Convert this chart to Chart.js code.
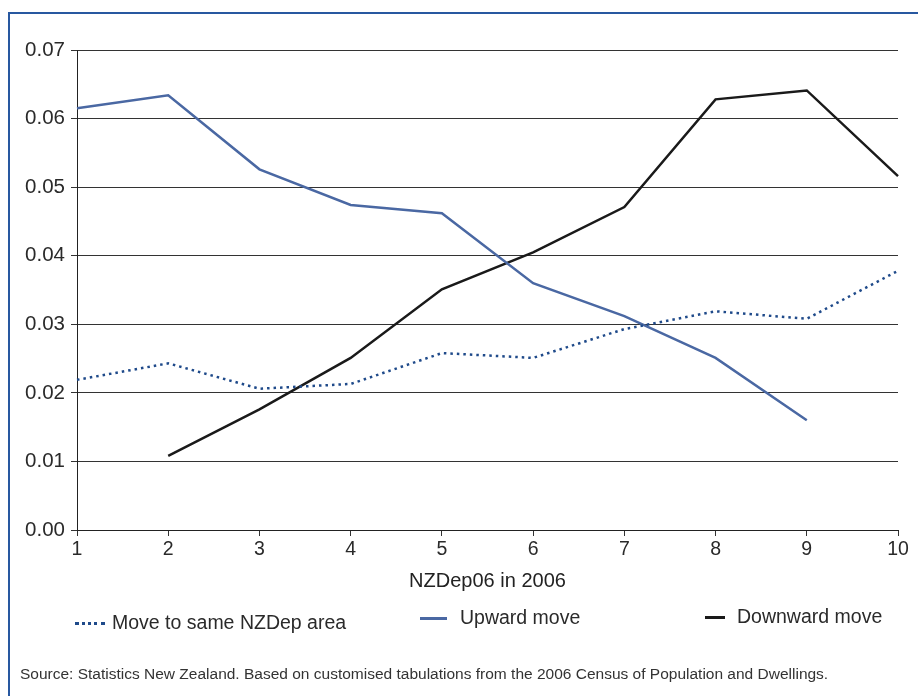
<!DOCTYPE html>
<html>
<head>
<meta charset="utf-8">
<script src="https://cdn.jsdelivr.net/npm/chart.js@4"></script>
<style>
  html, body { margin: 0; padding: 0; background: #fff; }
  body { width: 918px; height: 696px; position: relative; overflow: hidden; font-family: "Liberation Sans", Arial, sans-serif; color: #2a2a2a; }
  #frame { position: absolute; left: 8px; top: 12px; width: 920px; height: 700px; border-left: 2px solid #2858a0; border-top: 2px solid #2858a0; }
  #wrap { position: absolute; left: 0; top: 0; width: 918px; height: 696px; }
  .leg { position: absolute; font-size: 19.5px; line-height: 22px; white-space: nowrap; }
  .leg i { display: inline-block; vertical-align: middle; margin-right: 7px; }
  #source { position: absolute; left: 20px; top: 665px; font-size: 15.5px; color: #333; }
</style>
</head>
<body>
<div id="frame"></div>
<div id="wrap"><canvas id="chart" width="918" height="696"></canvas></div>
<div class="leg" style="left:75px; top:611px;"><i style="width:30px; border-top:3px dotted #1f4a8a;"></i>Move to same NZDep area</div>
<div class="leg" style="left:420px; top:606px;"><i style="width:27px; border-top:3px solid #4a68a3; margin-right:13px;"></i>Upward move</div>
<div class="leg" style="left:705px; top:605px;"><i style="width:20px; border-top:3px solid #1a1a1a; margin-right:12px;"></i>Downward move</div>
<div id="source">Source: Statistics New Zealand. Based on customised tabulations from the 2006 Census of Population and Dwellings.</div>
<script>
// NZDep06 deciles on the x axis
const deciles = ['1', '2', '3', '4', '5', '6', '7', '8', '9', '10'];

// proportions
const sameArea = [0.0219, 0.0243, 0.0206, 0.0213, 0.0258, 0.0251, 0.0293, 0.0319, 0.0308, 0.0378];
const upwardMove = [0.0615, 0.0634, 0.0526, 0.0474, 0.0462, 0.0360, 0.0312, 0.0251, 0.0160, null];
const downwardMove = [null, 0.0108, 0.0176, 0.0251, 0.0351, 0.0405, 0.0471, 0.0628, 0.0641, 0.0516];

const ctx = document.getElementById('chart').getContext('2d');
new Chart(ctx, {
    type: 'line',
    data: {
        labels: deciles,
        datasets: [
            { label: 'Move to same NZDep area', data: sameArea, borderColor: '#1f4a8a', borderWidth: 2.5, borderDash: [2.5, 4], pointRadius: 0, tension: 0 },
            { label: 'Upward move', data: upwardMove, borderColor: '#4a68a3', borderWidth: 2.5, pointRadius: 0, tension: 0 },
            { label: 'Downward move', data: downwardMove, borderColor: '#1a1a1a', borderWidth: 2.5, pointRadius: 0, tension: 0 }
        ]
    },
    options: {
        responsive: false,
        animation: false,
        layout: { padding: { top: 50, right: 20, bottom: 101, left: 0 } },
        plugins: { legend: { display: false }, tooltip: { enabled: false } },
        scales: {
            x: {
                offset: false,
                grid: { drawOnChartArea: false, drawTicks: true, tickLength: 6, color: '#333' },
                border: { color: '#222', width: 1 },
                ticks: { color: '#2a2a2a', font: { family: 'Liberation Sans', size: 19.5 }, padding: 2, maxRotation: 0 },
                title: { display: true, text: 'NZDep06 in 2006', color: '#222', font: { family: 'Liberation Sans', size: 20 }, padding: { top: 0, bottom: 2 } },
                afterFit: s => { s.height = 65; }
            },
            y: {
                min: 0,
                max: 0.07,
                grid: { color: '#333', lineWidth: 1, tickLength: 6 },
                border: { color: '#222', width: 1 },
                ticks: { stepSize: 0.01, color: '#2a2a2a', font: { family: 'Liberation Sans', size: 20.5 }, padding: 6, callback: v => v.toFixed(2) },
                afterFit: s => { s.width = 77; }
            }
        }
    }
});
</script>
</body>
</html>
